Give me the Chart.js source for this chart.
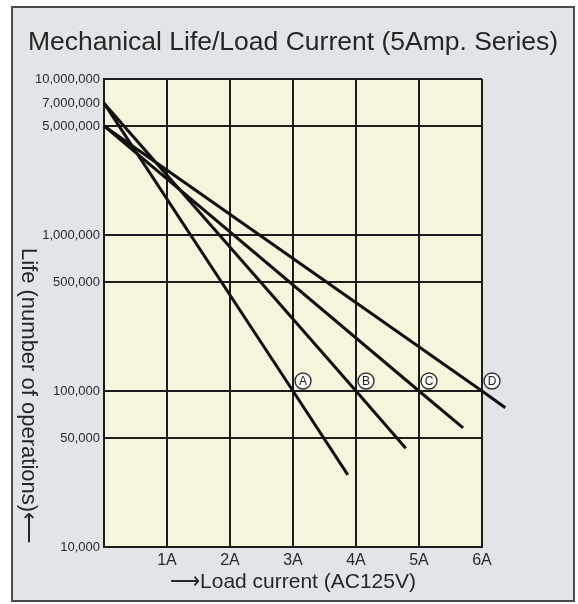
<!DOCTYPE html>
<html>
<head>
<meta charset="utf-8">
<script src="https://cdn.jsdelivr.net/npm/chart.js@4.4.1/dist/chart.umd.min.js"></script>
<style>
    html, body { margin: 0; padding: 0; background: #fff; }
    #wrap { width: 578px; height: 604px; }
</style>
</head>
<body>
<div id="wrap"><canvas id="myChart"></canvas></div>
<script>
const chartTitle = "Mechanical Life/Load Current (5Amp. Series)";
const xTitle = "\u27F6Load current (AC125V)";
const yTitle = "Life (number of operations)\u27F5";
const xTickLabels = ["", "1A", "2A", "3A", "4A", "5A", "6A"];
const yTickValues = [10000000, 7000000, 5000000, 1000000, 500000, 100000, 50000, 10000];
const seriesNames = ["A", "B", "C", "D"];

// load current (A) / life (operations): start, rated point at 100,000, end of line
const currentA = [0, 3, 3.87];
const lifeA = [7000000, 100000, 29000];
const currentB = [0, 4, 4.79];
const lifeB = [7000000, 100000, 43000];
const currentC = [0, 5, 5.7];
const lifeC = [5000000, 100000, 58000];
const currentD = [0, 6, 6.37];
const lifeD = [5000000, 100000, 78000];

const gridColor = "#1c1c1c";
const mk = (xs, ys) => xs.map((x, i) => ({x: x, y: ys[i]}));

const lineSet = (name, xs, ys) => ({
    label: name,
    data: mk(xs, ys),
    borderColor: "#111",
    borderWidth: 3,
    pointRadius: 0,
    fill: false,
    tension: 0,
    clip: false,
});

// frame, plot background, titles and circled letters
const paper = {
    id: "paper",
    beforeDraw(chart) {
        const c = chart.ctx, a = chart.chartArea;
        c.save();
        c.fillStyle = "#fff";
        c.fillRect(0, 0, chart.width, chart.height);
        c.fillStyle = "#e2e5e8";
        c.fillRect(12, 7, 562, 594);
        c.strokeStyle = "#4a4a4a";
        c.lineWidth = 2;
        c.strokeRect(12, 7, 562, 594);
        c.fillStyle = "#f6f4dc";
        c.fillRect(a.left, a.top, a.right - a.left, a.bottom - a.top);

        c.fillStyle = "#262626";
        c.font = "26.5px 'Liberation Sans', Arial, sans-serif";
        c.textAlign = "center";
        c.textBaseline = "middle";
        c.fillText(chartTitle, 293, 43);

        c.translate(28, 396);
        c.rotate(Math.PI / 2);
        c.font = "22px 'Liberation Sans', Arial, sans-serif";
        c.fillText(yTitle, 0, 0);
        c.restore();
    },
    afterDatasetsDraw(chart) {
        const c = chart.ctx;
        c.save();
        chart.data.datasets.forEach((ds, i) => {
            const p = chart.getDatasetMeta(i).data[1];
            const cx = p.x + 10, cy = p.y - 10;
            c.beginPath();
            c.arc(cx, cy, 8, 0, Math.PI * 2);
            c.fillStyle = "rgba(255,255,255,0.7)";
            c.fill();
            c.lineWidth = 1.4;
            c.strokeStyle = "#333";
            c.stroke();
            c.fillStyle = "#222";
            c.font = "12px 'Liberation Sans', Arial, sans-serif";
            c.textAlign = "center";
            c.textBaseline = "middle";
            c.fillText(seriesNames[i], cx, cy + 0.5);
        });
        c.restore();
    }
};

let ctx = document.getElementById("myChart").getContext("2d");

let myChart = new Chart(ctx, {
    type: "line",
    data: {
        datasets: [
            lineSet(seriesNames[0], currentA, lifeA),
            lineSet(seriesNames[1], currentB, lifeB),
            lineSet(seriesNames[2], currentC, lifeC),
            lineSet(seriesNames[3], currentD, lifeD),
        ],
    },
    options: {
        responsive: true,
        maintainAspectRatio: false,
        animation: false,
        layout: {
            padding: {left: 0, top: 79, right: 96, bottom: 8},
        },
        plugins: {
            legend: {display: false},
            tooltip: {enabled: false},
        },
        scales: {
            x: {
                type: "linear",
                // limits set here so the line ends past 6A are still drawn
                afterDataLimits: (s) => { s.min = 0; s.max = 6; },
                afterFit: (s) => { s.height = 49; },
                ticks: {
                    stepSize: 1,
                    padding: 4,
                    color: "#2a2a2a",
                    font: {family: "'Liberation Sans', Arial, sans-serif", size: 16},
                    callback: (v) => xTickLabels[v],
                },
                grid: {color: gridColor, lineWidth: 2, drawTicks: false},
                border: {display: true, color: gridColor, width: 2},
                title: {
                    display: true,
                    text: xTitle,
                    color: "#262626",
                    padding: {top: 0, bottom: 1},
                    font: {family: "'Liberation Sans', Arial, sans-serif", size: 21},
                },
            },
            y: {
                type: "logarithmic",
                min: 10000,
                max: 10000000,
                afterFit: (s) => { s.width = 104; },
                afterBuildTicks: (s) => { s.ticks = yTickValues.map((v) => ({value: v})); },
                ticks: {
                    padding: 4,
                    color: "#2a2a2a",
                    font: {family: "'Liberation Sans', Arial, sans-serif", size: 13},
                    callback: (v) => v.toLocaleString("en-US"),
                },
                grid: {
                    color: (c) => (c.tick && c.tick.value === 7000000 ? "rgba(0,0,0,0)" : gridColor),
                    lineWidth: 2,
                    drawTicks: false,
                },
                border: {display: true, color: gridColor, width: 2},
            },
        },
    },
    plugins: [paper],
});
</script>
</body>
</html>
